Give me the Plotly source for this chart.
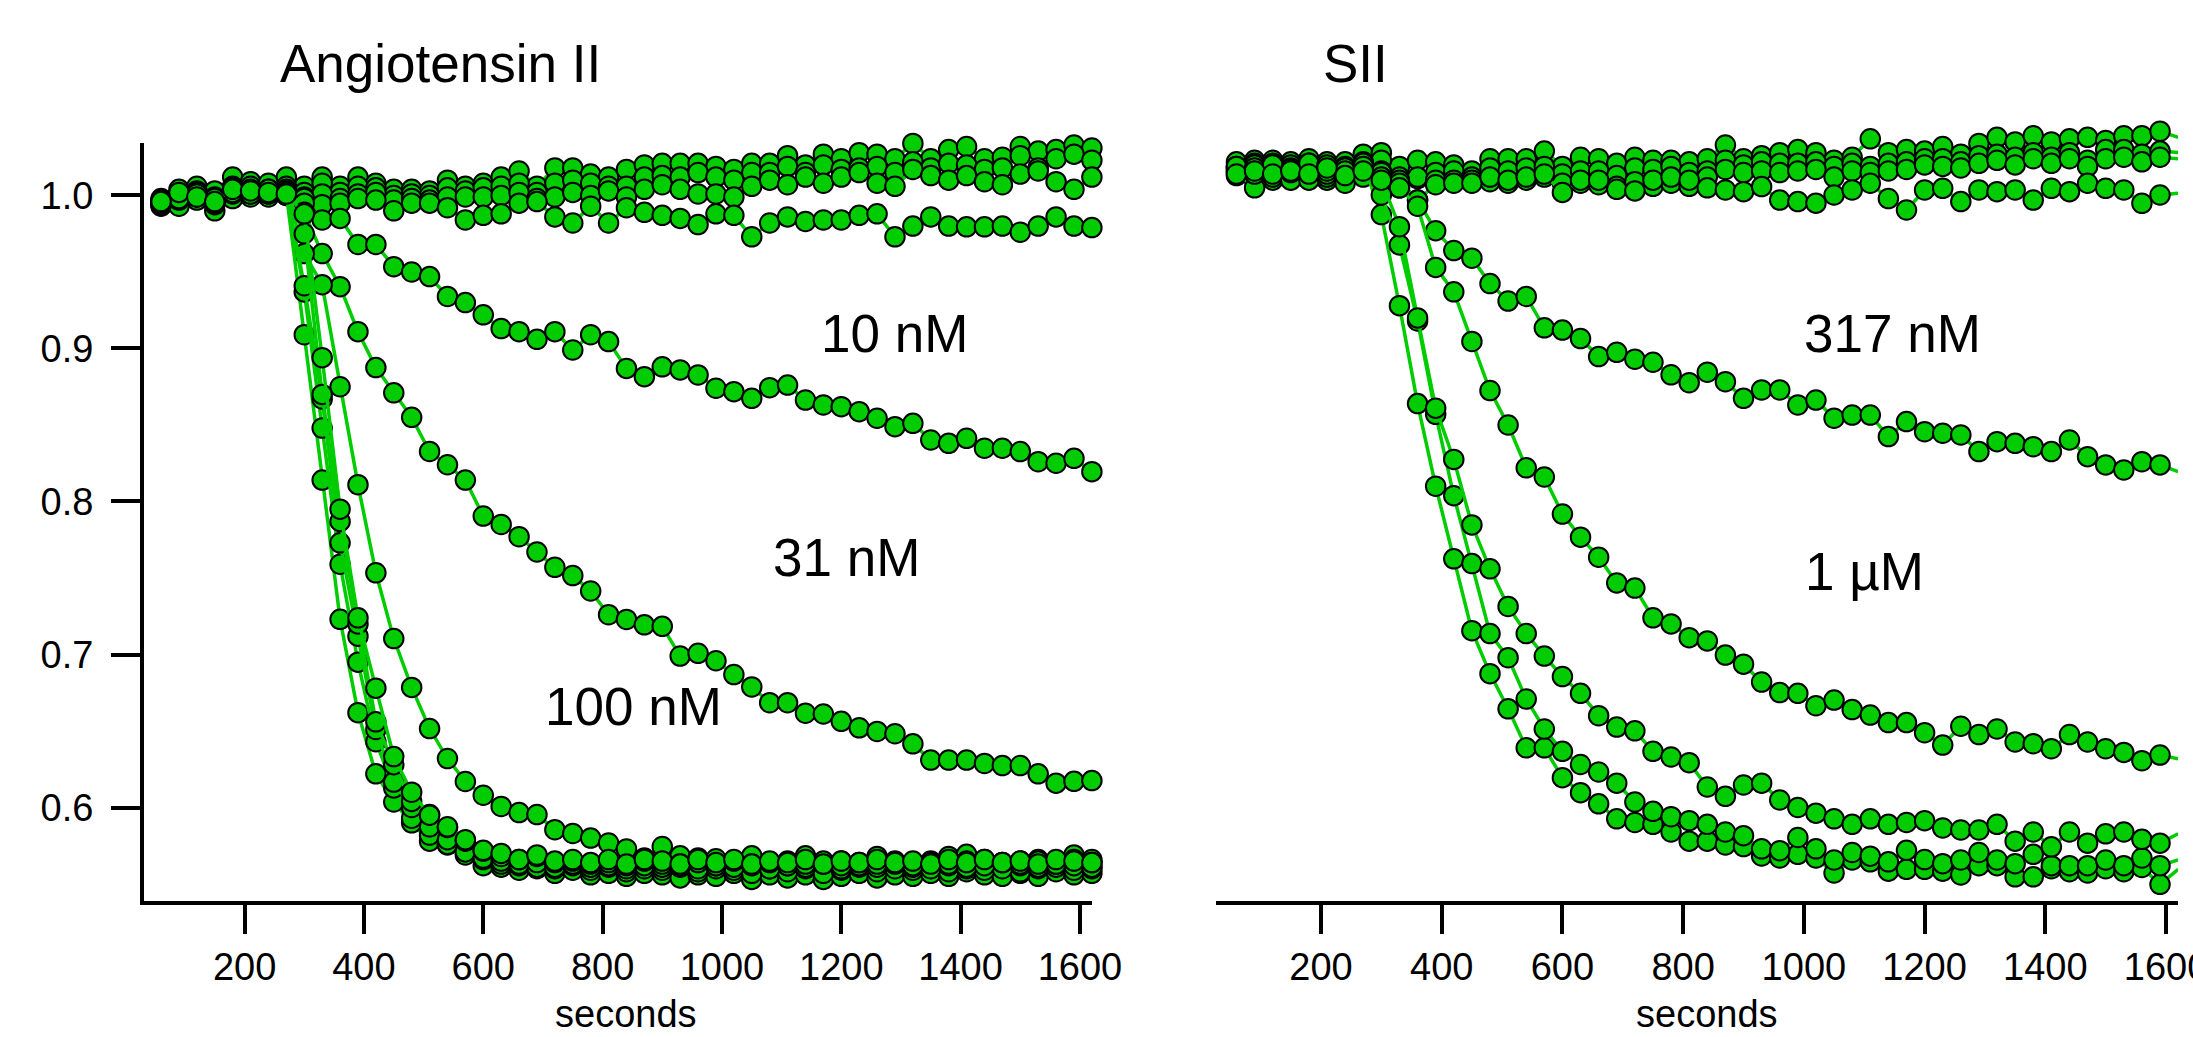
import plotly.graph_objects as go

# ---------------------------------------------------------------- data
seconds = [60, 90, 120, 150, 180, 210, 240, 270, 300, 330, 360, 390, 420, 450,
           480, 510, 540, 570, 600, 630, 660, 690, 720, 750, 780, 810, 840, 870,
           900, 930, 960, 990, 1020, 1050, 1080, 1110, 1140, 1170, 1200, 1230,
           1260, 1290, 1320, 1350, 1380, 1410, 1440, 1470, 1500, 1530, 1560,
           1590, 1620]

# Angiotensin II: unresponsive traces
ang_base_a = [0.998, 1.004, 1.006, 1.003, 1.012, 1.009, 1.008, 1.012, 1.006, 1.012, 1.006, 1.012, 1.008, 1.004,
              1.004, 1.003, 1.010, 1.006, 1.008, 1.012, 1.016, 1.006, 1.018, 1.018, 1.014, 1.012, 1.017, 1.020,
              1.021, 1.021, 1.021, 1.019, 1.017, 1.021, 1.021, 1.026, 1.020, 1.027, 1.024, 1.028,
              1.027, 1.024, 1.034, 1.024, 1.030, 1.032, 1.024, 1.025, 1.032, 1.029, 1.030, 1.033, 1.031]
ang_base_b = [0.996, 0.999, 1.002, 0.999, 1.006, 1.004, 1.004, 1.004, 1.002, 1.008, 1.002, 1.006, 1.005, 1.000,
              1.001, 1.000, 1.005, 1.003, 1.005, 1.006, 1.008, 1.002, 1.008, 1.010, 1.008, 1.006, 1.006, 1.012,
              1.013, 1.012, 1.015, 1.012, 1.010, 1.015, 1.015, 1.019, 1.015, 1.020, 1.017, 1.018,
              1.019, 1.015, 1.022, 1.018, 1.021, 1.020, 1.017, 1.018, 1.026, 1.018, 1.024, 1.027, 1.023]
ang_base_c = [0.995, 0.996, 0.998, 0.995, 1.001, 1.000, 1.000, 1.000, 0.999, 1.001, 0.998, 1.001, 1.002, 0.997,
              0.998, 0.997, 0.999, 0.999, 0.999, 1.000, 1.002, 0.998, 0.999, 1.002, 1.000, 1.003, 0.999, 1.004,
              1.007, 1.004, 1.001, 1.001, 0.999, 1.006, 1.010, 1.007, 1.012, 1.008, 1.012, 1.015,
              1.008, 1.006, 1.017, 1.013, 1.010, 1.013, 1.009, 1.007, 1.014, 1.016, 1.009, 1.004, 1.012]
ang_base_d = [0.993, 0.993, 0.997, 0.990, 0.998, 0.999, 0.999, 1.000, 0.998, 0.994, 0.995, 0.998, 0.997, 0.990,
              0.995, 0.995, 0.992, 0.984, 0.987, 0.988, 0.995, 0.996, 0.986, 0.982, 0.993, 0.982, 0.992, 0.989,
              0.987, 0.985, 0.981, 0.988, 0.987, 0.973, 0.982, 0.986, 0.983, 0.984, 0.984, 0.987,
              0.988, 0.973, 0.980, 0.986, 0.980, 0.9795, 0.9795, 0.980, 0.976, 0.980, 0.986, 0.980, 0.979]

# Angiotensin II: labelled doses
ang_10nM = [0.994, 0.997, 1.000, 0.996, 1.003, 1.002, 1.001, 1.003, 0.995, 0.984, 0.985, 0.968, 0.968, 0.9535,
            0.950, 0.947, 0.934, 0.930, 0.922, 0.913, 0.911, 0.906, 0.911, 0.899, 0.909, 0.9045, 0.887, 0.8816,
            0.888, 0.886, 0.8827, 0.874, 0.8718, 0.8674, 0.8744, 0.8761, 0.8663, 0.8631, 0.862, 0.8587,
            0.8544, 0.8489, 0.8511, 0.8402, 0.838, 0.8413, 0.8348, 0.8348, 0.8326, 0.826, 0.825, 0.8282, 0.8195]
ang_31nM = [0.996, 1.001, 1.003, 0.997, 1.004, 1.006, 1.003, 1.006, 0.989, 0.962, 0.9404, 0.911, 0.8875, 0.871,
            0.855, 0.8327, 0.824, 0.814, 0.7905, 0.785, 0.777, 0.767, 0.757, 0.7516, 0.7415, 0.726, 0.7229, 0.7194,
            0.7184, 0.699, 0.7008, 0.6959, 0.6869, 0.6788, 0.6685, 0.6685, 0.6616, 0.6611, 0.6563, 0.6521,
            0.6497, 0.6482, 0.6416, 0.631, 0.631, 0.631, 0.6288, 0.6274, 0.6274, 0.622, 0.6159, 0.6171, 0.6176]
ang_100nM = [0.995, 0.998, 1.001, 0.994, 1.002, 1.001, 1.002, 1.004, 0.962, 0.9417, 0.875, 0.811, 0.7534, 0.7104,
             0.6785, 0.6516, 0.632, 0.617, 0.608, 0.6007, 0.5967, 0.5954, 0.5855, 0.583, 0.580, 0.5768, 0.5729, 0.567,
             0.5745, 0.5684, 0.567, 0.5665, 0.5633, 0.5684, 0.562, 0.565, 0.5684, 0.562, 0.565, 0.563,
             0.568, 0.563, 0.564, 0.565, 0.568, 0.5694, 0.566, 0.563, 0.565, 0.566, 0.564, 0.569, 0.566]

# Angiotensin II: higher doses (fast, full response)
ang_high_1 = [0.994, 0.999, 0.999, 0.996, 1.001, 1.003, 1.002, 1.001, 0.909, 0.814, 0.723, 0.662, 0.622, 0.6036,
              0.590, 0.578, 0.5755, 0.569, 0.562, 0.561, 0.559, 0.560, 0.557, 0.559, 0.556, 0.557, 0.555, 0.557,
              0.556, 0.554, 0.556, 0.555, 0.557, 0.553, 0.556, 0.554, 0.556, 0.553, 0.555, 0.557,
              0.554, 0.556, 0.555, 0.557, 0.555, 0.558, 0.556, 0.555, 0.557, 0.555, 0.558, 0.556, 0.557]
ang_high_2 = [0.996, 1.000, 1.002, 0.997, 1.005, 1.002, 1.003, 1.002, 0.937, 0.848, 0.759, 0.695, 0.643, 0.6128,
              0.593, 0.582, 0.576, 0.572, 0.566, 0.563, 0.562, 0.561, 0.560, 0.562, 0.559, 0.561, 0.558, 0.560,
              0.559, 0.561, 0.558, 0.560, 0.559, 0.557, 0.560, 0.558, 0.560, 0.557, 0.559, 0.561,
              0.558, 0.560, 0.559, 0.561, 0.558, 0.560, 0.559, 0.561, 0.558, 0.560, 0.561, 0.559, 0.560]
ang_high_3 = [0.995, 1.001, 1.000, 0.998, 1.003, 1.004, 1.001, 1.003, 0.941, 0.867, 0.773, 0.712, 0.651, 0.6166,
              0.600, 0.5874, 0.579, 0.571, 0.567, 0.565, 0.563, 0.564, 0.561, 0.563, 0.561, 0.562, 0.560, 0.562,
              0.561, 0.563, 0.560, 0.562, 0.561, 0.563, 0.560, 0.562, 0.561, 0.563, 0.560, 0.562,
              0.561, 0.563, 0.561, 0.560, 0.562, 0.561, 0.563, 0.560, 0.562, 0.561, 0.563, 0.562, 0.561]
ang_high_4 = [0.997, 0.998, 1.001, 0.995, 1.002, 1.001, 1.004, 1.002, 0.975, 0.870, 0.787, 0.720, 0.656, 0.628,
              0.604, 0.5954, 0.587, 0.578, 0.5715, 0.568, 0.566, 0.568, 0.564, 0.565, 0.563, 0.564, 0.562, 0.565,
              0.563, 0.562, 0.564, 0.562, 0.565, 0.562, 0.564, 0.562, 0.563, 0.565, 0.562, 0.564,
              0.563, 0.565, 0.562, 0.564, 0.563, 0.565, 0.562, 0.564, 0.563, 0.565, 0.563, 0.566, 0.564]
ang_high_5 = [0.996, 1.002, 0.999, 0.996, 1.004, 1.003, 1.002, 1.001, 0.988, 0.894, 0.795, 0.724, 0.678, 0.6333,
              0.610, 0.595, 0.5874, 0.579, 0.572, 0.570, 0.566, 0.569, 0.565, 0.566, 0.564, 0.566, 0.563, 0.566,
              0.565, 0.563, 0.566, 0.564, 0.566, 0.563, 0.565, 0.564, 0.566, 0.563, 0.565, 0.564,
              0.566, 0.564, 0.565, 0.563, 0.566, 0.564, 0.566, 0.564, 0.565, 0.563, 0.566, 0.565, 0.564]

# SII: unresponsive traces
sii_base_a = [1.022, 1.023, 1.023, 1.022, 1.024, 1.022, 1.022, 1.027, 1.028, 1.019, 1.023, 1.022, 1.020, 1.016,
              1.024, 1.024, 1.024, 1.029, 1.019, 1.025, 1.024, 1.021, 1.025, 1.023, 1.023, 1.022, 1.024, 1.033,
              1.024, 1.026, 1.028, 1.030, 1.028, 1.023, 1.025, 1.037, 1.028, 1.030, 1.029, 1.032,
              1.027, 1.034, 1.038, 1.035, 1.039, 1.035, 1.037, 1.038, 1.036, 1.039, 1.039, 1.042, 1.038]
sii_base_b = [1.018, 1.017, 1.021, 1.016, 1.019, 1.019, 1.015, 1.020, 1.023, 1.012, 1.011, 1.015, 1.016, 1.012,
              1.018, 1.016, 1.018, 1.019, 1.014, 1.016, 1.016, 1.013, 1.018, 1.017, 1.019, 1.015, 1.016, 1.023,
              1.020, 1.022, 1.021, 1.021, 1.022, 1.019, 1.021, 1.019, 1.021, 1.022, 1.024, 1.024,
              1.022, 1.026, 1.027, 1.025, 1.028, 1.025, 1.028, 1.023, 1.030, 1.030, 1.027, 1.029, 1.028]
sii_base_c = [1.013, 1.010, 1.010, 1.013, 1.012, 1.010, 1.010, 1.016, 1.016, 1.005, 1.012, 1.010, 1.010, 1.010,
              1.009, 1.008, 1.010, 1.012, 1.008, 1.008, 1.007, 1.006, 1.009, 1.006, 1.008, 1.006, 1.012, 1.017,
              1.015, 1.016, 1.015, 1.016, 1.017, 1.012, 1.016, 1.015, 1.016, 1.017, 1.020, 1.019,
              1.018, 1.021, 1.023, 1.020, 1.024, 1.021, 1.024, 1.019, 1.024, 1.025, 1.022, 1.025, 1.024]
sii_base_d = [1.015, 1.005, 1.012, 1.010, 1.010, 1.012, 1.008, 1.012, 1.014, 1.010, 0.997, 1.007, 1.008, 1.008,
              1.012, 1.010, 1.012, 1.014, 1.002, 1.010, 1.010, 1.004, 1.003, 1.010, 1.012, 1.010, 1.005, 1.0036,
              1.0025, 1.0058, 0.997, 0.996, 0.995, 1.0003, 1.0036, 1.008, 0.998, 0.9905, 1.0036, 1.0047,
              0.996, 1.0036, 1.0025, 1.0036, 0.997, 1.0047, 1.0025, 1.008, 1.0047, 1.0036, 0.9949, 1.0003, 1.0014]

# SII: labelled doses
sii_317nM = [1.019, 1.021, 1.018, 1.020, 1.021, 1.017, 1.019, 1.022, 1.015, 1.008, 0.997, 0.977, 0.964, 0.959,
             0.9424, 0.931, 0.934, 0.9135, 0.912, 0.9065, 0.8947, 0.8975, 0.893, 0.891, 0.8828, 0.8776, 0.8845, 0.8783,
             0.8674, 0.8729, 0.8729, 0.8631, 0.8663, 0.8544, 0.8565, 0.8565, 0.8424, 0.8522, 0.8456, 0.8446,
             0.8435, 0.8326, 0.8391, 0.838, 0.8358, 0.8326, 0.8402, 0.8293, 0.8239, 0.8206, 0.826, 0.8239, 0.8195]
sii_1uM = [1.016, 1.014, 1.017, 1.015, 1.016, 1.014, 1.017, 1.018, 1.012, 1.005, 0.993, 0.953, 0.937, 0.9046,
           0.8725, 0.850, 0.822, 0.816, 0.7918, 0.7767, 0.7636, 0.7468, 0.7434, 0.724, 0.720, 0.711, 0.7089, 0.6996,
           0.6937, 0.682, 0.6751, 0.6746, 0.6665, 0.6702, 0.664, 0.6604, 0.6555, 0.6555, 0.6489, 0.6408,
           0.6531, 0.6477, 0.6513, 0.6428, 0.6417, 0.6384, 0.6477, 0.6428, 0.6384, 0.636, 0.6306, 0.6343, 0.6318]

# SII: higher doses
sii_high_1 = [1.017, 1.020, 1.016, 1.018, 1.020, 1.016, 1.018, 1.021, 0.9875, 0.928, 0.864, 0.810, 0.7625, 0.7156,
              0.6875, 0.6645, 0.639, 0.639, 0.6195, 0.6097, 0.6024, 0.5926, 0.5902, 0.589, 0.584, 0.578, 0.578, 0.5755,
              0.5745, 0.5683, 0.567, 0.5694, 0.567, 0.5572, 0.5657, 0.5645, 0.5584, 0.5596, 0.5596, 0.5584,
              0.5559, 0.562, 0.562, 0.5547, 0.5547, 0.560, 0.558, 0.5572, 0.560, 0.558, 0.5608, 0.5498, 0.5596]
sii_high_2 = [1.019, 1.018, 1.020, 1.017, 1.021, 1.020, 1.016, 1.019, 1.0003, 0.9677, 0.918, 0.857, 0.8038, 0.7594,
              0.7137, 0.6979, 0.6709, 0.6513, 0.6367, 0.6281, 0.6232, 0.6159, 0.6036, 0.5975, 0.594, 0.5914, 0.589, 0.584,
              0.5816, 0.573, 0.5718, 0.5804, 0.573, 0.5657, 0.5706, 0.5682, 0.5645, 0.572, 0.566, 0.5633,
              0.5657, 0.5706, 0.5657, 0.5633, 0.5694, 0.562, 0.562, 0.562, 0.5657, 0.562, 0.567, 0.562, 0.5657]
sii_high_3 = [1.014, 1.016, 1.014, 1.016, 1.014, 1.018, 1.013, 1.016, 1.010, 0.9796, 0.920, 0.861, 0.8275, 0.7847,
              0.756, 0.7314, 0.7137, 0.699, 0.6856, 0.6746, 0.660, 0.6526, 0.6501, 0.6367, 0.633, 0.6293, 0.6134, 0.6073,
              0.6147, 0.6159, 0.6049, 0.600, 0.5963, 0.5926, 0.589, 0.5926, 0.589, 0.5902, 0.5914, 0.5866,
              0.5853, 0.5853, 0.589, 0.578, 0.584, 0.5743, 0.584, 0.5767, 0.5828, 0.584, 0.5792, 0.5767, 0.5828]

x_ticks = [200, 400, 600, 800, 1000, 1200, 1400, 1600]
y_ticks = [0.6, 0.7, 0.8, 0.9, 1.0]
y_tick_text = ["0.6", "0.7", "0.8", "0.9", "1.0"]

ang_series = [ang_base_a, ang_base_b, ang_base_c, ang_base_d, ang_10nM, ang_31nM,
              ang_100nM, ang_high_1, ang_high_2, ang_high_3, ang_high_4, ang_high_5]
sii_series = [sii_base_a, sii_base_b, sii_base_c, sii_base_d, sii_317nM, sii_1uM,
              sii_high_1, sii_high_2, sii_high_3]

# ---------------------------------------------------------------- style
GREEN = "rgb(0,204,0)"
FONT = "Liberation Sans, Arial, Helvetica, sans-serif"


def trace(values, xa, ya):
    return go.Scatter(
        x=seconds, y=values, xaxis=xa, yaxis=ya,
        mode="lines+markers", cliponaxis=False, showlegend=False,
        line=dict(color=GREEN, width=3.5),
        marker=dict(symbol="circle", size=19.5, color=GREEN,
                    line=dict(color="black", width=2)),
        hoverinfo="skip",
    )


fig = go.Figure()
for s in ang_series:
    fig.add_trace(trace(s, "x", "y"))
for s in sii_series:
    fig.add_trace(trace(s, "x2", "y2"))

axis_common = dict(
    automargin=False,
    showgrid=False, zeroline=False, showline=True, linecolor="black",
    linewidth=4, ticks="outside", ticklen=29, tickwidth=4, tickcolor="black",
    tickfont=dict(family=FONT, size=38, color="black"),
)

fig.update_layout(
    template="none",
    width=2193, height=1037, autosize=False, showlegend=False,
    margin=dict(l=0, r=0, t=0, b=0, pad=0),
    paper_bgcolor="white", plot_bgcolor="white",
    font=dict(family=FONT, color="black"),
    xaxis=dict(domain=[0.065664, 0.497948], range=[31.4, 1620.2], anchor="y",
               tickvals=x_ticks, ticklabeloverflow="allow", **axis_common),
    yaxis=dict(domain=[0.13115, 0.86210], range=[0.5389, 1.0343], anchor="x",
               tickvals=y_ticks, ticktext=y_tick_text, ticklabelstandoff=10,
               **axis_common),
    xaxis2=dict(domain=[0.554719, 0.993160], range=[26.9, 1619.8], anchor="y2",
                tickvals=x_ticks, ticklabeloverflow="allow", **axis_common),
    yaxis2=dict(domain=[0.13115, 0.90357], range=[0.5389, 1.0624], anchor="x2",
                visible=False, automargin=False),
)

big = dict(family=FONT, size=53, color="black")
small = dict(family=FONT, size=38, color="black")
annotations = [
    dict(text="Angiotensin II", xref="paper", yref="paper", x=0.20087, y=0.9392, font=big),
    dict(text="SII", xref="paper", yref="paper", x=0.61833, y=0.9392, font=big),
    dict(text="10 nM", xref="x", yref="y", x=1290, y=0.9095, font=big),
    dict(text="31 nM", xref="x", yref="y", x=1208, y=0.7637, font=big),
    dict(text="100 nM", xref="x", yref="y", x=852.6, y=0.6657, font=big),
    dict(text="317 nM", xref="x2", yref="y2", x=1147.6, y=0.9095, font=big),
    dict(text="1 µM", xref="x2", yref="y2", x=1101, y=0.7542, font=big),
    dict(text="seconds", xref="x", yref="paper", x=840, y=0.0222, font=small),
    dict(text="seconds", xref="x2", yref="paper", x=840, y=0.0222, font=small),
]
for a in annotations:
    a.update(xanchor="center", yanchor="middle", showarrow=False)
fig.update_layout(annotations=annotations)

fig.write_html("out.html")
